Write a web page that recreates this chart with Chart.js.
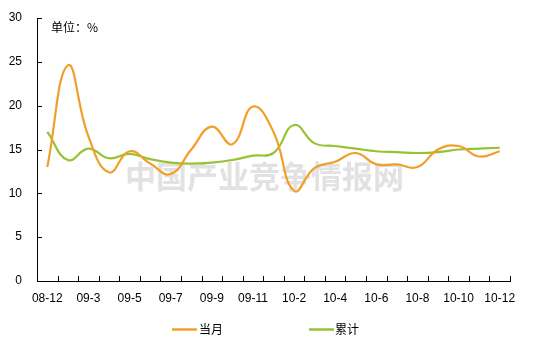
<!DOCTYPE html>
<html>
<head>
<meta charset="utf-8">
<script src="https://cdn.jsdelivr.net/npm/chart.js@4"></script>
<style>
  html, body { margin: 0; padding: 0; background: #fff; }
  #wrap { width: 534px; height: 352px; position: relative; }
</style>
</head>
<body>
<div id="wrap"><canvas id="myChart"></canvas></div>
<script>
const months = [
  '08-12', '09-2', '09-3', '09-4', '09-5', '09-6', '09-7', '09-8', '09-9', '09-10', '09-11', '09-12',
  '10-2', '10-3', '10-4', '10-5', '10-6', '10-7', '10-8', '10-9', '10-10', '10-11', '10-12',
];
const monthly = [13.0, 24.6, 16.5, 12.4, 14.8, 13.4, 12.2, 15.0, 17.6, 15.6, 19.9, 17.0,
  10.3, 12.9, 13.6, 14.6, 13.3, 13.3, 13.0, 15.0, 15.4, 14.2, 14.8];
const cumulative = [17.0, 13.8, 15.1, 14.0, 14.5, 13.9, 13.5, 13.4, 13.5, 13.8, 14.3, 14.6,
  17.8, 15.7, 15.4, 15.1, 14.8, 14.7, 14.6, 14.7, 15.0, 15.1, 15.2];
const seriesNames = ['当月', '累计'];
const seriesColors = ['#F0A02A', '#99C232'];
const unitText = '单位：%';
const watermark = '中国产业竞争情报网';

const cjk = '"Noto Sans CJK SC", sans-serif';

// ticks point inward, like the original
const innerTicks = {
  id: 'innerTicks',
  afterDraw(chart) {
    const {ctx, scales: {x, y}} = chart;
    ctx.save();
    ctx.strokeStyle = '#000';
    ctx.lineWidth = 1;
    ctx.beginPath();
    for (let i = 0; i <= months.length; i++) {
      const px = Math.round(x.getPixelForValue(i - 0.5)) + 0.5;
      ctx.moveTo(px, y.bottom);
      ctx.lineTo(px, y.bottom - 5);
    }
    for (let v = 0; v <= 30; v += 5) {
      const py = Math.round(y.getPixelForValue(v)) + 0.5;
      ctx.moveTo(x.left, py);
      ctx.lineTo(x.left + 5, py);
    }
    ctx.stroke();
    ctx.restore();
  }
};

const extras = {
  id: 'extras',
  beforeDatasetsDraw(chart) {
    const {ctx} = chart;
    ctx.save();
    ctx.font = 'bold 31px ' + cjk;
    ctx.fillStyle = '#e2e2e2';
    ctx.textBaseline = 'middle';
    ctx.textAlign = 'left';
    ctx.fillText(watermark, 125, 176);
    ctx.restore();
  },
  afterDraw(chart) {
    const {ctx} = chart;
    ctx.save();
    ctx.fillStyle = '#000';
    ctx.font = '12px ' + cjk;
    ctx.textBaseline = 'middle';
    ctx.fillText(unitText, 51, 27);
    // legend
    const items = [{x: 172, tx: 199}, {x: 309, tx: 335}];
    items.forEach((it, i) => {
      ctx.strokeStyle = seriesColors[i];
      ctx.lineWidth = 2.5;
      ctx.beginPath();
      ctx.moveTo(it.x, 329.5);
      ctx.lineTo(it.x + 25, 329.5);
      ctx.stroke();
      ctx.fillText(seriesNames[i], it.tx, 329);
    });
    ctx.restore();
  }
};

const data = {
  labels: months,
  datasets: [{
    label: seriesNames[0],
    data: monthly,
    borderColor: seriesColors[0],
    borderWidth: 2.2,
    pointRadius: 0,
    tension: 0.45,
    fill: false
  }, {
    label: seriesNames[1],
    data: cumulative,
    borderColor: seriesColors[1],
    borderWidth: 2.2,
    pointRadius: 0,
    tension: 0.45,
    fill: false
  }]
};

const config = {
  type: 'line',
  data,
  options: {
    responsive: true,
    maintainAspectRatio: false,
    animation: false,
    layout: { padding: { top: 18, right: 24, left: 0, bottom: 0 } },
    plugins: {
      legend: { display: false },
      tooltip: { enabled: false }
    },
    scales: {
      x: {
        offset: true,
        grid: { display: false, offset: true, drawTicks: false },
        border: { display: true, color: '#000', width: 1 },
        ticks: {
          autoSkip: false,
          maxRotation: 0,
          padding: 10,
          color: '#000',
          font: { family: 'Liberation Sans, Arial', size: 12 },
          callback: (v, i) => i % 2 === 0 ? months[i] : ''
        },
        afterFit: (s) => { s.height = 71; }
      },
      y: {
        min: 0,
        max: 30,
        grid: { display: false, drawTicks: false },
        border: { display: true, color: '#000', width: 1 },
        ticks: {
          stepSize: 5,
          padding: 15,
          color: '#000',
          font: { family: 'Liberation Sans, Arial', size: 12 }
        },
        afterFit: (s) => { s.width = 37; s.paddingTop = 0; s.paddingBottom = 0; }
      }
    }
  },
  plugins: [extras, innerTicks]
};

const myChart = new Chart(document.getElementById('myChart'), config);
</script>
</body>
</html>
